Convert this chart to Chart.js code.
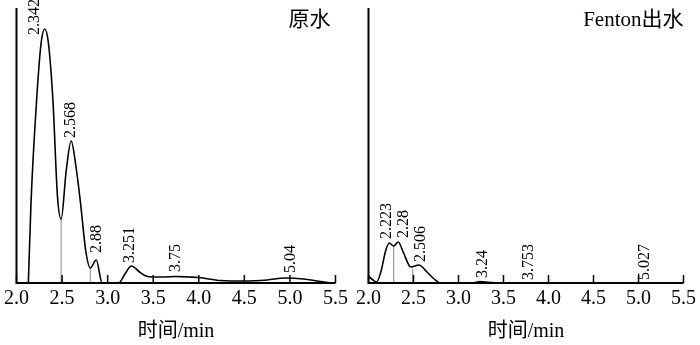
<!DOCTYPE html>
<html>
<head>
<meta charset="utf-8">
<script src="https://cdn.jsdelivr.net/npm/chart.js@4.4.1/dist/chart.umd.min.js"></script>
<style>
html, body { margin: 0; padding: 0; background: #fff; }
#wrap { position: relative; width: 700px; height: 345px; }
.panel { position: absolute; top: 0; height: 345px; }
#pa { left: 0; width: 352px; }
#pb { left: 352px; width: 348px; }
</style>
</head>
<body>
<div id="wrap">
  <div class="panel" id="pa"><canvas id="rawChart"></canvas></div>
  <div class="panel" id="pb"><canvas id="fentonChart"></canvas></div>
</div>
<script>
// x tick values, same for both panels
var xTicks = [2.0, 2.5, 3.0, 3.5, 4.0, 4.5, 5.0, 5.5];
var axisTitle = '时间/min';

// 原水 trace: time (min) and detector response
var rawName = '原水';
var rawTime   = [2.13, 2.16, 2.22, 2.27, 2.31, 2.35, 2.40, 2.45, 2.49, 2.545, 2.60, 2.65, 2.70, 2.76, 2.81, 2.875, 2.94,
                 3.12, 3.19, 3.26, 3.35, 3.42, 3.49, 3.60, 3.75, 3.90, 4.00, 4.24, 4.50, 4.75, 4.95, 5.15, 5.30, 5.45];
var rawSignal = [0, 82, 182, 240, 254, 240, 182, 86, 64, 112, 142, 118, 82, 32, 15, 23, 0,
                 0, 9, 17, 11, 7, 6, 6, 6.5, 6, 5.5, 2.5, 2, 3, 5, 4, 2, 0];
var rawDropTime = [2.49, 2.81];
var rawDropHeight = [64, 15];
var rawPeakText = ['2.342', '2.568', '2.88', '3.251', '3.75', '5.04'];
var rawPeakTime = [2.205, 2.594, 2.885, 3.24, 3.75, 5.01];
var rawPeakHeight = [248, 145, 30, 20, 11, 10];

// Fenton出水 trace
var fenName = 'Fenton出水';
var fenTime   = [2.0, 2.05, 2.09, 2.14, 2.19, 2.23, 2.28, 2.33, 2.39, 2.47, 2.56, 2.65, 2.73, 2.80,
                 3.15, 3.24, 3.35, 3.45, 5.5];
var fenSignal = [7, 3, 1, 12, 32, 40, 37, 41, 30, 16, 18, 11, 4, 0,
                 0, 1.5, 0.5, 0, 0];
var fenDropTime = [2.28, 2.49];
var fenDropHeight = [37, 14];
var fenPeakText = ['2.223', '2.28', '2.506', '3.24', '3.753', '5.027'];
var fenPeakTime = [2.207, 2.393, 2.578, 3.265, 3.778, 5.075];
var fenPeakHeight = [44, 45, 21, 5, 3, 3];

var serif = '"Liberation Serif", "Times New Roman", "Noto Sans CJK SC", serif';

// axes, inside ticks, rotated peak labels and panel name
var chromDecor = {
    id: 'chromDecor',
    afterDraw: function (chart) {
        var ctx = chart.ctx, a = chart.chartArea;
        var xs = chart.scales.x, ys = chart.scales.y;
        var o = chart.options.plugins.chromDecor;
        ctx.save();
        ctx.strokeStyle = '#000';
        ctx.lineWidth = 2;
        ctx.beginPath();
        ctx.moveTo(a.left, a.top);
        ctx.lineTo(a.left, a.bottom);
        ctx.lineTo(a.right, a.bottom);
        ctx.stroke();
        ctx.lineWidth = 1.5;
        xTicks.forEach(function (v) {
            var px = xs.getPixelForValue(v);
            ctx.beginPath();
            ctx.moveTo(px, a.bottom);
            ctx.lineTo(px, a.bottom - 8);
            ctx.stroke();
        });
        ctx.fillStyle = '#000';
        ctx.font = '16px ' + serif;
        ctx.textAlign = 'left';
        ctx.textBaseline = 'middle';
        o.text.forEach(function (t, i) {
            ctx.save();
            ctx.translate(xs.getPixelForValue(o.at[i]), ys.getPixelForValue(o.height[i]));
            ctx.rotate(-Math.PI / 2);
            ctx.fillText(t, 0, 0);
            ctx.restore();
        });
        ctx.font = '21px ' + serif;
        ctx.textAlign = 'right';
        ctx.fillText(o.name, xs.getPixelForValue(o.nameAt), 20);
        ctx.restore();
    }
};

function makeChart(id, name, nameAt, time, signal, dropT, dropH, pText, pTime, pHeight, padLeft, padRight) {
    var datasets = [{
        data: time.map(function (t, i) { return { x: t, y: signal[i] }; }),
        borderColor: '#000',
        borderWidth: 1.6,
        pointRadius: 0,
        cubicInterpolationMode: 'monotone',
        fill: false
    }];
    dropT.forEach(function (t, i) {
        datasets.push({
            data: [{ x: t, y: 0 }, { x: t, y: dropH[i] }],
            borderColor: '#9a9a9a',
            borderWidth: 1.2,
            pointRadius: 0
        });
    });
    return new Chart(document.getElementById(id), {
        type: 'line',
        data: { datasets: datasets },
        options: {
            responsive: true,
            maintainAspectRatio: false,
            animation: false,
            layout: { padding: { left: padLeft, top: 8, right: padRight, bottom: 0 } },
            plugins: {
                legend: { display: false },
                tooltip: { enabled: false },
                chromDecor: { name: name, nameAt: nameAt, text: pText, at: pTime, height: pHeight }
            },
            scales: {
                x: {
                    type: 'linear',
                    min: 2, max: 5.5,
                    afterBuildTicks: function (s) { s.ticks = xTicks.map(function (v) { return { value: v }; }); },
                    afterFit: function (s) { s.height = 62; },
                    ticks: {
                        callback: function (v) { return Number(v).toFixed(1); },
                        font: { family: serif, size: 20 },
                        color: '#000',
                        padding: 4,
                        maxRotation: 0,
                        autoSkip: false
                    },
                    grid: { display: false, drawTicks: false },
                    border: { display: false },
                    title: {
                        display: true,
                        text: axisTitle,
                        font: { family: serif, size: 20 },
                        color: '#000',
                        padding: { top: 0, bottom: 1 }
                    }
                },
                y: {
                    display: false,
                    min: 0, max: 275
                }
            }
        },
        plugins: [chromDecor]
    });
}

makeChart('rawChart', rawName, 5.445, rawTime, rawSignal, rawDropTime, rawDropHeight,
    rawPeakText, rawPeakTime, rawPeakHeight, 13, 15);
makeChart('fentonChart', fenName, 5.5, fenTime, fenSignal, fenDropTime, fenDropHeight,
    fenPeakText, fenPeakTime, fenPeakHeight, 15, 12);
</script>
</body>
</html>
